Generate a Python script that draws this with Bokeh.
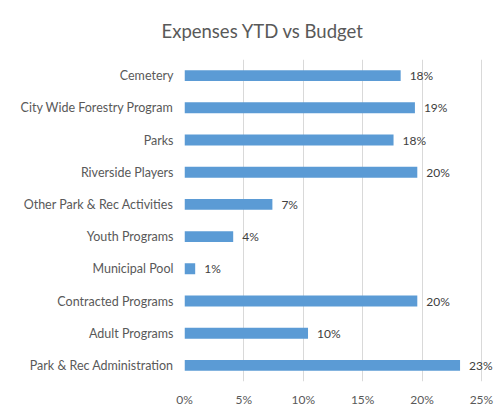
from bokeh.plotting import figure
from bokeh.models import ColumnDataSource, FactorRange, Range1d, LabelSet
from bokeh.core.properties import value
from bokeh.embed import file_html
from bokeh.resources import INLINE

categories = ["Cemetery", "City Wide Forestry Program", "Parks", "Riverside Players",
              "Other Park & Rec Activities", "Youth Programs", "Municipal Pool",
              "Contracted Programs", "Adult Programs", "Park & Rec Administration"]
pct_values = [18.2, 19.4, 17.6, 19.6, 7.4, 4.1, 0.9, 19.6, 10.4, 23.2]
x_ticks = [0, 5, 10, 15, 20, 25]
x_tick_labels = ["0%", "5%", "10%", "15%", "20%", "25%"]
title_text = "Expenses YTD vs Budget"

FONT = "Lato"
TXT = "#595959"

src = ColumnDataSource(dict(
    cat=categories,
    val=pct_values,
    label=[f"{round(v):d}%" for v in pct_values],
))

p = figure(width=494, height=415,
           y_range=FactorRange(factors=categories[::-1]),
           x_range=Range1d(0, 26.1),
           output_backend="svg", toolbar_location=None,
           min_border_left=184, min_border_right=0,
           min_border_top=58, min_border_bottom=34)

p.hbar(y="cat", right="val", left=0, height=0.34, source=src,
       fill_color="#5b9bd5", line_color=None)

p.add_layout(LabelSet(x="val", y="cat", text="label", source=src,
                      x_offset=9, text_baseline="middle",
                      text_font=value(FONT), text_font_size="12px",
                      text_color="#404040"))

p.title.text = title_text
p.title.align = "left"
p.title.offset = -23
p.title.standoff = 35
p.title.text_font = FONT
p.title.text_font_size = "18.5px"
p.title.text_font_style = "normal"
p.title.text_color = TXT

p.xaxis.ticker = x_ticks
p.xaxis.major_label_overrides = {t: l for t, l in zip(x_ticks, x_tick_labels)}
for ax in (p.xaxis, p.yaxis):
    ax.axis_line_color = None
    ax.major_tick_line_color = None
    ax.minor_tick_line_color = None
    ax.major_tick_out = 0
    ax.major_tick_in = 0
    ax.major_label_text_font = FONT
    ax.major_label_text_color = TXT
p.xaxis.major_label_text_font_size = "12px"
p.yaxis.major_label_text_font_size = "12.5px"
p.xaxis.major_label_standoff = 10
p.yaxis.major_label_standoff = 11

p.xgrid.grid_line_color = "#d9d9d9"
p.ygrid.grid_line_color = None
p.outline_line_color = None

open("out.html", "w").write(file_html(p, INLINE))
